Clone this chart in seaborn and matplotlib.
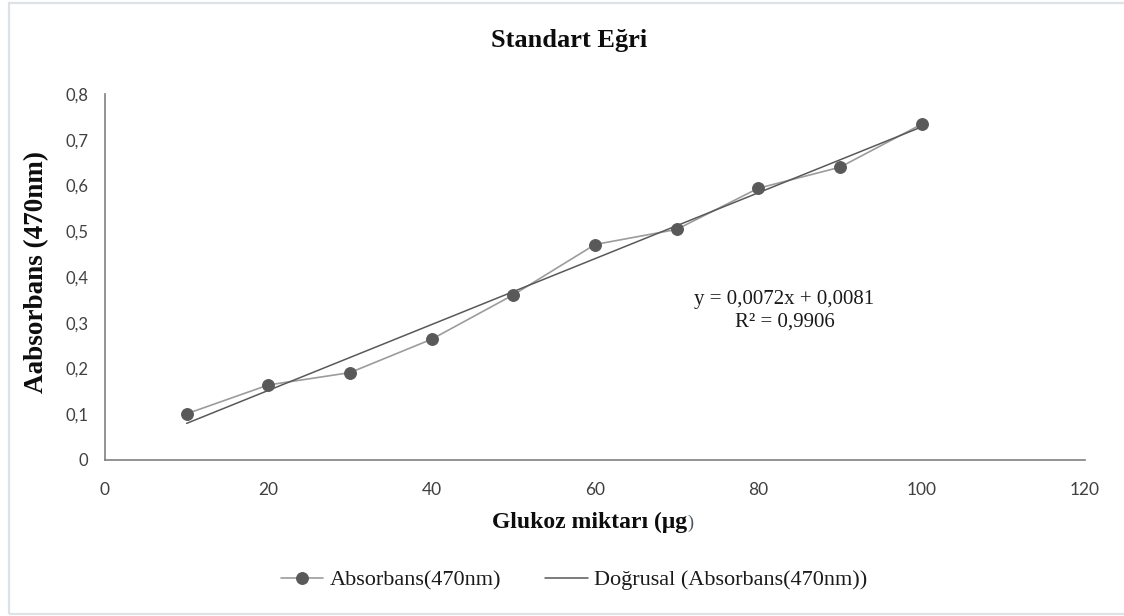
import matplotlib
matplotlib.use("Agg")
import matplotlib.pyplot as plt
from matplotlib.patches import Rectangle
import pandas as pd
import seaborn as sns

# Glucose standard curve: measured absorbance at 470 nm
glukoz_ug = [10, 20, 30, 40, 50, 60, 70, 80, 90, 100]
absorbans = [0.101, 0.164, 0.191, 0.264, 0.361, 0.471, 0.504, 0.594, 0.640, 0.734]

# Linear trendline coefficients and fit quality
egim = 0.0072
kesisim = 0.0081
r_kare = 0.9906

x_ticks = [0, 20, 40, 60, 80, 100, 120]
y_ticks = [0, 0.1, 0.2, 0.3, 0.4, 0.5, 0.6, 0.7, 0.8]

df = pd.DataFrame({"x": glukoz_ug, "y": absorbans})
trend = pd.DataFrame({"x": [glukoz_ug[0], glukoz_ug[-1]]})
trend["y"] = egim * trend["x"] + kesisim

sns.set_theme(style="white")
SERIF = "Liberation Serif"
SANS = "Lato"

fig = plt.figure(figsize=(11.24, 6.16), dpi=100)
ax = fig.add_axes([105 / 1124, 1 - 460 / 616, (1085 - 105) / 1124, (460 - 94) / 616])

sns.lineplot(data=df, x="x", y="y", ax=ax, color="#9c9c9c", linewidth=1.2,
             marker="o", markersize=8.5, markerfacecolor="#595959",
             markeredgecolor="#595959", label="Absorbans(470nm)", legend=False)
sns.lineplot(data=trend, x="x", y="y", ax=ax, color="#595959", linewidth=1.1,
             label="Doğrusal (Absorbans(470nm))", legend=False)

ax.set_xlim(0, 120)
ax.set_ylim(0, 0.8)
ax.set_xticks(x_ticks)
ax.set_yticks(y_ticks)
ax.set_xticklabels([str(v) for v in x_ticks], fontfamily=SANS, fontsize=12.5, color="#404040")
ax.set_yticklabels([("%g" % v).replace(".", ",") for v in y_ticks],
                   fontfamily=SANS, fontsize=12, color="#404040")
ax.tick_params(axis="both", length=0)
ax.tick_params(axis="y", pad=12)
ax.tick_params(axis="x", pad=16)
ax.set_xlabel("")
ax.set_ylabel("")
for side in ("top", "right"):
    ax.spines[side].set_visible(False)
for side in ("left", "bottom"):
    ax.spines[side].set_color("#808080")
    ax.spines[side].set_linewidth(1.2)

# Trendline equation
esitlik = ("y = %s" % ("%.4f" % egim).replace(".", ",") + "x + "
           + ("%.4f" % kesisim).replace(".", ","))
ax.text(83.2, 0.326, esitlik + "\nR² = " + ("%.4f" % r_kare).replace(".", ","),
        ha="center", va="center", fontfamily=SERIF, fontsize=15,
        color="#1a1a1a", linespacing=1.25)

# Titles
fig.text(569 / 1124, 1 - 40 / 616, "Standart Eğri", ha="center", va="center",
         fontfamily=SERIF, fontweight="bold", fontsize=19, color="#0d0d0d")
fig.text(37 / 1124, 1 - 272 / 616, "Aabsorbans (470nm)", ha="center", va="center",
         rotation=90, fontfamily=SERIF, fontweight="bold", fontsize=19.5, color="#0d0d0d")
xl = fig.text(590 / 1124, 1 - 522 / 616, "Glukoz miktarı (μg", ha="center", va="center",
              fontfamily=SERIF, fontweight="bold", fontsize=17, color="#0d0d0d")
ax.annotate(")", xy=(1, 0.42), xycoords=xl, ha="left", va="center",
            fontfamily=SERIF, fontsize=13, color="#44546a", annotation_clip=False)

# Legend
handles, labels = ax.get_legend_handles_labels()
fig.legend(handles, labels, loc="center", bbox_to_anchor=(574 / 1124, 1 - 580 / 616),
           ncol=2, frameon=False, prop={"family": SERIF, "size": 16},
           handlelength=1.9, handletextpad=0.3, columnspacing=2.0, labelcolor="#1a1a1a")

# Thin outer frame
fig.add_artist(Rectangle((8.5 / 1124, 2 / 616), 1.2, 611 / 616, transform=fig.transFigure,
                         fill=False, edgecolor="#dde2e9", linewidth=1.6))

fig.savefig("out.png", dpi=100)
